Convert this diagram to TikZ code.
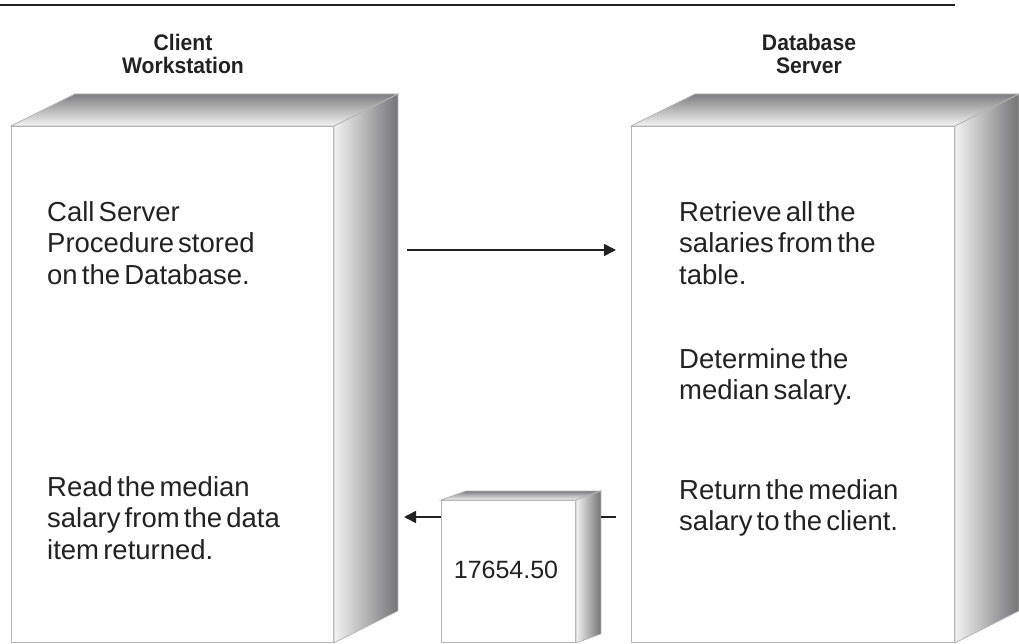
\documentclass[tikz,border=0pt]{standalone}
\usepackage{fontspec}
\setmainfont{Liberation Sans}
\newfontfamily\bodyfont[WordSpace=0.55]{Liberation Sans}
\newfontfamily\titlefont[FakeStretch=0.94]{Liberation Sans Bold}
\usetikzlibrary{calc,arrows.meta}

\definecolor{ink}{HTML}{222222}
\definecolor{edge}{HTML}{B4B4B4}
\definecolor{topdark}{HTML}{7E7E80}
\definecolor{toplight}{HTML}{F4F4F4}
\definecolor{sidelight}{HTML}{F2F2F2}
\definecolor{sidedark}{HTML}{747476}

% shaded top and side faces of a box whose front face is node #1
\newcommand\boxfaces[3]{%
  \shade[top color=topdark, bottom color=toplight, draw=edge, line width=0.8pt]
    (#1.north west) -- ++(#2,#3) -- ($(#1.north east)+(#2,#3)$) -- (#1.north east) -- cycle;
  \shade[left color=sidelight, right color=sidedark, draw=edge, line width=0.8pt]
    (#1.north east) -- ++(#2,#3) -- ($(#1.south east)+(#2,#3)$) -- (#1.south east) -- cycle;
}

\tikzset{
  frontface/.style={draw=edge, line width=0.9pt, fill=white, inner sep=0pt, anchor=north west},
  title/.style={font=\titlefont\fontsize{22.5}{22.5}\selectfont, text=ink, align=center, anchor=north, inner sep=0pt},
  body/.style={font=\bodyfont\fontsize{27.5}{31.5}\selectfont, text=ink, align=left, anchor=north west, inner sep=0pt},
  flow/.style={draw=ink, line width=1.6pt, -{Triangle[length=12pt,width=12pt]}},
  plainline/.style={draw=ink, line width=1.6pt}
}

\begin{document}
\begin{tikzpicture}[x=1pt, y=-1pt]
  \useasboundingbox (0,0) rectangle (1019,644);

  % rule across the top
  \coordinate (ruleL) at (0,5);
  \coordinate (ruleR) at (955,5);
  \draw[ink, line width=1.6pt] (ruleL) -- (ruleR);

  % headings
  \node[title] (clienttitle) at (183,34) {Client\\Workstation};
  \node[title] (servertitle) at (809,34) {Database\\Server};

  % client workstation box
  \node[frontface, minimum width=322pt, minimum height=516pt] (client) at (11,126) {};
  \boxfaces{client}{64}{-32}

  % database server box
  \node[frontface, minimum width=323pt, minimum height=516pt] (server) at (631,126) {};
  \boxfaces{server}{64}{-32}

  % returned data item
  \node[frontface, minimum width=134pt, minimum height=142pt] (value) at (441,500) {};
  \boxfaces{value}{25}{-9}
  \node[font=\fontsize{25}{30}\selectfont, text=ink, inner sep=0pt] (valuetext) at (506,570) {17654.50};

  % step texts
  \node[body] (call) at (47,201) {Call Server\\Procedure stored\\on the Database.};
  \node[body] (read) at (47,476) {Read the median\\salary from the data\\item returned.};
  \node[body] (retrieve) at (679,201) {Retrieve all the\\salaries from the\\table.};
  \node[body] (median) at (679,348) {Determine the\\median salary.};
  \node[body] (return) at (679,479) {Return the median\\salary to the client.};

  % request arrow
  \coordinate (reqStart) at (407,250);
  \coordinate (reqEnd) at (616,250);
  \draw[flow] (reqStart) -- (reqEnd);

  % reply arrow through the data item
  \coordinate (repTip) at (404,517);
  \coordinate (repFrom) at (616,517);
  \draw[flow] (value.west |- repTip) -- (repTip);
  \draw[plainline] (repFrom) -- ($(value.east |- repTip)+(25,0)$);
\end{tikzpicture}
\end{document}
